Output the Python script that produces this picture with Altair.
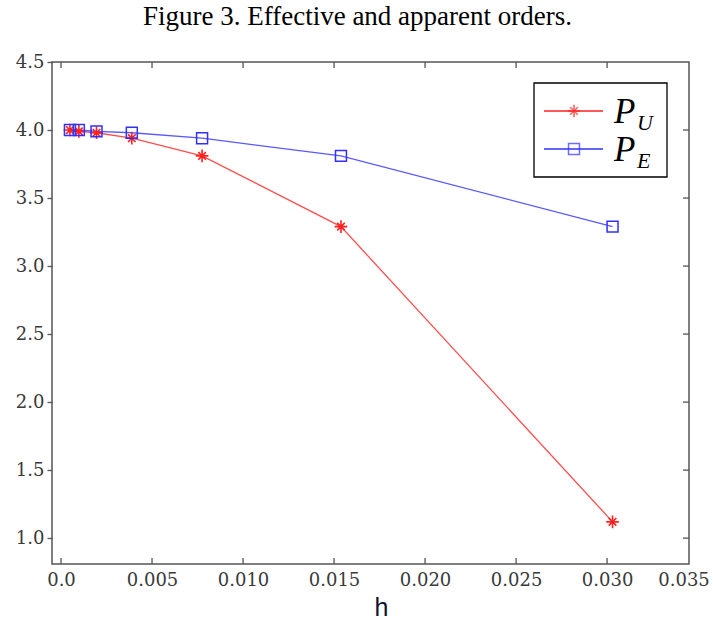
import altair as alt
import pandas as pd

# ---- data ----
h_values = [0.00049, 0.00098, 0.00195, 0.00389, 0.00775, 0.01538, 0.03030]
p_u = [4.00, 3.99, 3.98, 3.94, 3.81, 3.29, 1.12]
p_e = [4.00, 4.00, 3.99, 3.98, 3.94, 3.81, 3.29]
series_names = ["P_U", "P_E"]
series_main = ["P", "P"]
series_sub = ["U", "E"]
x_ticks = [0.0, 0.005, 0.010, 0.015, 0.020, 0.025, 0.030]
x_edge_label = 0.0342   # where the clipped "0.035" label sits at the frame's right edge
y_ticks = [1.0, 1.5, 2.0, 2.5, 3.0, 3.5, 4.0, 4.5]

RED = "#ff2020"
BLUE = "#3030ff"
FRAME = "#555555"
LABEL_FONT = "DejaVu Serif"
W, H = 637, 502
X_MIN, X_MAX = -0.000495, 0.0345
Y_MIN, Y_MAX = 0.81, 4.5

ASTERISK = "M-1,0L1,0M0,-1L0,1M-0.6,-0.6L0.6,0.6M-0.6,0.6L0.6,-0.6"

df = pd.DataFrame({
    "h": h_values * 2,
    "value": p_u + p_e,
    "series": [series_names[0]] * len(h_values) + [series_names[1]] * len(h_values),
})
df_u = df[df.series == series_names[0]]
df_e = df[df.series == series_names[1]]

xscale = alt.Scale(domain=[X_MIN, X_MAX], nice=False, zero=False)
yscale = alt.Scale(domain=[Y_MIN, Y_MAX], nice=False, zero=False)

x_axis = alt.Axis(
    values=x_ticks + [x_edge_label],
    labelExpr="datum.value == 0 ? '0.0' : (datum.value > 0.034 ? '0.035' : format(datum.value, '.3f'))",
    ticks=False, domain=False, grid=False,
    labelFont=LABEL_FONT, labelFontSize=18, labelColor="#3a3a3a", labelPadding=7,
    labelFlush=False, labelOverlap=False,
    title="h", titleFont="Liberation Sans", titleFontSize=25, titleFontWeight="normal",
    titleColor="#111133", titleX=329, titlePadding=6,
)
y_axis = alt.Axis(
    values=y_ticks, format=".1f", ticks=True, tickSize=5, tickColor=FRAME, tickWidth=1.3,
    domain=False, grid=False, labelFont=LABEL_FONT, labelFontSize=18,
    labelColor="#3a3a3a", labelPadding=3, labelFlush=False, labelOverlap=False, title=None,
)

color_scale = alt.Scale(domain=series_names, range=[RED, BLUE])

lines = alt.Chart(df).mark_line(strokeWidth=1.3, opacity=0.8).encode(
    x=alt.X("h:Q", scale=xscale, axis=x_axis, title="h"),
    y=alt.Y("value:Q", scale=yscale, axis=y_axis, title=None),
    color=alt.Color("series:N", scale=color_scale, legend=None),
)
pts_u = alt.Chart(df_u).mark_point(shape=ASTERISK, size=160, filled=False, strokeWidth=1.6, color=RED, opacity=1).encode(
    x=alt.X("h:Q", scale=xscale),
    y=alt.Y("value:Q", scale=yscale),
)
pts_e = alt.Chart(df_e).mark_point(shape="square", size=120, filled=False, strokeWidth=1.5, color=BLUE, opacity=1).encode(
    x=alt.X("h:Q", scale=xscale),
    y=alt.Y("value:Q", scale=yscale),
)

# inward ticks on bottom, top, right
xt = pd.DataFrame({"h": x_ticks})
yt = pd.DataFrame({"value": y_ticks[:-1]})
bottom_ticks = alt.Chart(xt).mark_rule(color=FRAME, strokeWidth=1.3).encode(
    x=alt.X("h:Q", scale=xscale), y=alt.value(H), y2=alt.value(H - 6))
top_ticks = alt.Chart(xt).mark_rule(color=FRAME, strokeWidth=1.3).encode(
    x=alt.X("h:Q", scale=xscale), y=alt.value(0), y2=alt.value(6))
right_ticks = alt.Chart(yt).mark_rule(color=FRAME, strokeWidth=1.3).encode(
    y=alt.Y("value:Q", scale=yscale), x=alt.value(W), x2=alt.value(W - 6))

# legend (pixel-placed box in the upper right corner)
leg = pd.DataFrame({
    "series": series_names,
    "main": series_main,
    "sub": series_sub,
    "row": [0, 1],
})
box = alt.Chart(pd.DataFrame({"a": [0]})).mark_rect(fill="white", stroke="black", strokeWidth=1.3).encode(
    x=alt.value(482), x2=alt.value(615), y=alt.value(21), y2=alt.value(115))
leg_line_u = alt.Chart(leg[leg.row == 0]).mark_rule(strokeWidth=1.3, color=RED).encode(
    x=alt.value(492), x2=alt.value(551), y=alt.value(49))
leg_line_e = alt.Chart(leg[leg.row == 1]).mark_rule(strokeWidth=1.3, color=BLUE).encode(
    x=alt.value(492), x2=alt.value(551), y=alt.value(87))
leg_star = alt.Chart(leg[leg.row == 0]).mark_point(
    shape=ASTERISK, size=160, filled=False, strokeWidth=1.6, color=RED).encode(
    x=alt.value(522), y=alt.value(49))
leg_sq = alt.Chart(leg[leg.row == 1]).mark_point(
    shape="square", size=120, filled=False, strokeWidth=1.5, color=BLUE).encode(
    x=alt.value(522), y=alt.value(87))
txt_main = dict(font="Liberation Serif", fontStyle="italic", fontSize=35,
                align="left", baseline="alphabetic", color="black")
txt_sub = dict(font="Liberation Serif", fontStyle="italic", fontSize=22,
               align="left", baseline="alphabetic", color="black")
leg_main_u = alt.Chart(leg[leg.row == 0]).mark_text(**txt_main).encode(
    x=alt.value(562), y=alt.value(61), text="main:N")
leg_main_e = alt.Chart(leg[leg.row == 1]).mark_text(**txt_main).encode(
    x=alt.value(562), y=alt.value(99), text="main:N")
leg_sub_u = alt.Chart(leg[leg.row == 0]).mark_text(**txt_sub).encode(
    x=alt.value(585), y=alt.value(68), text="sub:N")
leg_sub_e = alt.Chart(leg[leg.row == 1]).mark_text(**txt_sub).encode(
    x=alt.value(585), y=alt.value(106), text="sub:N")

chart = alt.layer(
    lines, pts_u, pts_e, bottom_ticks, top_ticks, right_ticks,
    box, leg_line_u, leg_line_e, leg_star, leg_sq,
    leg_main_u, leg_main_e, leg_sub_u, leg_sub_e,
).properties(
    width=W, height=H,
    title=alt.TitleParams("Figure 3. Effective and apparent orders.", font="Liberation Serif",
                          fontSize=27, fontWeight="normal", color="black", anchor="middle",
                          dx=-13, offset=22),
    autosize=alt.AutoSizeParams(type="none"),
    padding={"left": 52, "top": 62, "right": 24, "bottom": 59},
    background="white",
).configure_view(
    stroke=FRAME, strokeWidth=1.5
).configure_axis(
    labelFont=LABEL_FONT, labelFontSize=18, labelColor="#3a3a3a",
    titleFont="Liberation Sans", titleFontSize=25, titleFontWeight="normal",
)

chart.save("out.html", embed_options={"renderer": "svg", "actions": False})
